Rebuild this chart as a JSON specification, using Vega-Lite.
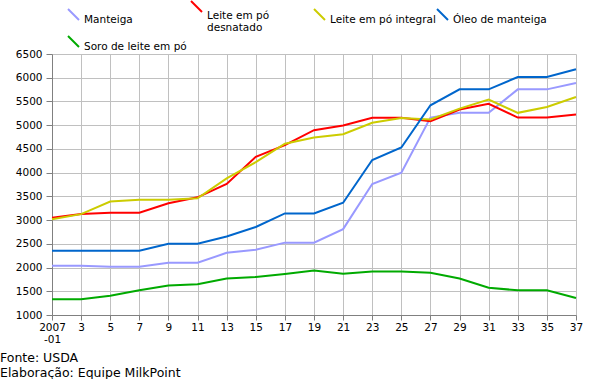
{
  "$schema": "https://vega.github.io/schema/vega-lite/v6.json",
  "width": 524,
  "height": 261,
  "autosize": {"type": "none"},
  "padding": {"left": 52, "top": 54, "right": 14, "bottom": 64},
  "background": "white",
  "config": {"font": "DejaVu Sans", "view": {"stroke": null}},
  "title": {
    "text": ["Fonte: USDA", "Elaboração: Equipe MilkPoint"],
    "orient": "bottom",
    "anchor": "start",
    "frame": "group",
    "dx": -52,
    "offset": 7,
    "fontSize": 12.5,
    "fontWeight": "normal",
    "lineHeight": 15,
    "color": "black"
  },
  "data": {
    "values": [
      {"s": "Manteiga", "p": 1, "v": 2040}, {"s": "Manteiga", "p": 3, "v": 2040}, {"s": "Manteiga", "p": 5, "v": 2015}, {"s": "Manteiga", "p": 7, "v": 2015}, {"s": "Manteiga", "p": 9, "v": 2100}, {"s": "Manteiga", "p": 11, "v": 2100}, {"s": "Manteiga", "p": 13, "v": 2310}, {"s": "Manteiga", "p": 15, "v": 2375}, {"s": "Manteiga", "p": 17, "v": 2525}, {"s": "Manteiga", "p": 19, "v": 2525}, {"s": "Manteiga", "p": 21, "v": 2810}, {"s": "Manteiga", "p": 23, "v": 3760}, {"s": "Manteiga", "p": 25, "v": 4000}, {"s": "Manteiga", "p": 27, "v": 5160}, {"s": "Manteiga", "p": 29, "v": 5260}, {"s": "Manteiga", "p": 31, "v": 5260}, {"s": "Manteiga", "p": 33, "v": 5755}, {"s": "Manteiga", "p": 35, "v": 5755}, {"s": "Manteiga", "p": 37, "v": 5890},
      {"s": "Leite em pó desnatado", "p": 1, "v": 3050}, {"s": "Leite em pó desnatado", "p": 3, "v": 3130}, {"s": "Leite em pó desnatado", "p": 5, "v": 3155}, {"s": "Leite em pó desnatado", "p": 7, "v": 3155}, {"s": "Leite em pó desnatado", "p": 9, "v": 3355}, {"s": "Leite em pó desnatado", "p": 11, "v": 3480}, {"s": "Leite em pó desnatado", "p": 13, "v": 3760}, {"s": "Leite em pó desnatado", "p": 15, "v": 4335}, {"s": "Leite em pó desnatado", "p": 17, "v": 4580}, {"s": "Leite em pó desnatado", "p": 19, "v": 4895}, {"s": "Leite em pó desnatado", "p": 21, "v": 4995}, {"s": "Leite em pó desnatado", "p": 23, "v": 5155}, {"s": "Leite em pó desnatado", "p": 25, "v": 5155}, {"s": "Leite em pó desnatado", "p": 27, "v": 5085}, {"s": "Leite em pó desnatado", "p": 29, "v": 5330}, {"s": "Leite em pó desnatado", "p": 31, "v": 5450}, {"s": "Leite em pó desnatado", "p": 33, "v": 5160}, {"s": "Leite em pó desnatado", "p": 35, "v": 5160}, {"s": "Leite em pó desnatado", "p": 37, "v": 5225},
      {"s": "Leite em pó integral", "p": 1, "v": 3020}, {"s": "Leite em pó integral", "p": 3, "v": 3125}, {"s": "Leite em pó integral", "p": 5, "v": 3390}, {"s": "Leite em pó integral", "p": 7, "v": 3430}, {"s": "Leite em pó integral", "p": 9, "v": 3430}, {"s": "Leite em pó integral", "p": 11, "v": 3460}, {"s": "Leite em pó integral", "p": 13, "v": 3880}, {"s": "Leite em pó integral", "p": 15, "v": 4220}, {"s": "Leite em pó integral", "p": 17, "v": 4610}, {"s": "Leite em pó integral", "p": 19, "v": 4740}, {"s": "Leite em pó integral", "p": 21, "v": 4810}, {"s": "Leite em pó integral", "p": 23, "v": 5050}, {"s": "Leite em pó integral", "p": 25, "v": 5150}, {"s": "Leite em pó integral", "p": 27, "v": 5120}, {"s": "Leite em pó integral", "p": 29, "v": 5350}, {"s": "Leite em pó integral", "p": 31, "v": 5540}, {"s": "Leite em pó integral", "p": 33, "v": 5260}, {"s": "Leite em pó integral", "p": 35, "v": 5385}, {"s": "Leite em pó integral", "p": 37, "v": 5595},
      {"s": "Óleo de manteiga", "p": 1, "v": 2355}, {"s": "Óleo de manteiga", "p": 3, "v": 2355}, {"s": "Óleo de manteiga", "p": 5, "v": 2355}, {"s": "Óleo de manteiga", "p": 7, "v": 2355}, {"s": "Óleo de manteiga", "p": 9, "v": 2500}, {"s": "Óleo de manteiga", "p": 11, "v": 2500}, {"s": "Óleo de manteiga", "p": 13, "v": 2655}, {"s": "Óleo de manteiga", "p": 15, "v": 2855}, {"s": "Óleo de manteiga", "p": 17, "v": 3140}, {"s": "Óleo de manteiga", "p": 19, "v": 3140}, {"s": "Óleo de manteiga", "p": 21, "v": 3365}, {"s": "Óleo de manteiga", "p": 23, "v": 4265}, {"s": "Óleo de manteiga", "p": 25, "v": 4530}, {"s": "Óleo de manteiga", "p": 27, "v": 5420}, {"s": "Óleo de manteiga", "p": 29, "v": 5755}, {"s": "Óleo de manteiga", "p": 31, "v": 5755}, {"s": "Óleo de manteiga", "p": 33, "v": 6015}, {"s": "Óleo de manteiga", "p": 35, "v": 6015}, {"s": "Óleo de manteiga", "p": 37, "v": 6180},
      {"s": "Soro de leite em pó", "p": 1, "v": 1330}, {"s": "Soro de leite em pó", "p": 3, "v": 1330}, {"s": "Soro de leite em pó", "p": 5, "v": 1405}, {"s": "Soro de leite em pó", "p": 7, "v": 1520}, {"s": "Soro de leite em pó", "p": 9, "v": 1620}, {"s": "Soro de leite em pó", "p": 11, "v": 1650}, {"s": "Soro de leite em pó", "p": 13, "v": 1770}, {"s": "Soro de leite em pó", "p": 15, "v": 1800}, {"s": "Soro de leite em pó", "p": 17, "v": 1865}, {"s": "Soro de leite em pó", "p": 19, "v": 1935}, {"s": "Soro de leite em pó", "p": 21, "v": 1870}, {"s": "Soro de leite em pó", "p": 23, "v": 1915}, {"s": "Soro de leite em pó", "p": 25, "v": 1915}, {"s": "Soro de leite em pó", "p": 27, "v": 1890}, {"s": "Soro de leite em pó", "p": 29, "v": 1770}, {"s": "Soro de leite em pó", "p": 31, "v": 1575}, {"s": "Soro de leite em pó", "p": 33, "v": 1520}, {"s": "Soro de leite em pó", "p": 35, "v": 1520}, {"s": "Soro de leite em pó", "p": 37, "v": 1360}
    ]
  },
  "mark": {"type": "line", "strokeWidth": 2},
  "encoding": {
    "x": {
      "field": "p",
      "type": "quantitative",
      "scale": {"domain": [1, 37], "nice": false, "zero": false},
      "axis": {
        "title": null,
        "values": [1, 3, 5, 7, 9, 11, 13, 15, 17, 19, 21, 23, 25, 27, 29, 31, 33, 35, 37],
        "labelExpr": "datum.value == 1 ? ['2007', '-01'] : datum.label",
        "grid": true,
        "gridColor": "#c0c0c0",
        "gridOpacity": 1,
        "domainColor": "#808080",
        "tickColor": "#808080",
        "tickSize": 5,
        "labelFontSize": 10.5,
        "labelColor": "black",
        "labelPadding": 2,
        "labelFlush": false,
        "labelOverlap": false,
        "labelLineHeight": 12
      }
    },
    "y": {
      "field": "v",
      "type": "quantitative",
      "scale": {"domain": [1000, 6500], "nice": false, "zero": false},
      "axis": {
        "title": null,
        "values": [1000, 1500, 2000, 2500, 3000, 3500, 4000, 4500, 5000, 5500, 6000, 6500],
        "format": "d",
        "grid": true,
        "gridColor": "#c0c0c0",
        "gridOpacity": 1,
        "domainColor": "#808080",
        "tickColor": "#808080",
        "tickSize": 6,
        "labelFontSize": 10.5,
        "labelColor": "black",
        "labelPadding": 4
      }
    },
    "color": {
      "field": "s",
      "type": "nominal",
      "scale": {
        "domain": ["Manteiga", "Leite em pó desnatado", "Leite em pó integral", "Óleo de manteiga", "Soro de leite em pó"],
        "range": ["#9999ff", "#ff0000", "#cccc00", "#0066cc", "#00aa00"]
      },
      "legend": {
        "orient": "none",
        "legendX": 15,
        "legendY": -54,
        "direction": "horizontal",
        "columns": 4,
        "gridAlign": "all",
        "title": null,
        "symbolType": "M-1,-1L1,1",
        "symbolSize": 121,
        "symbolStrokeWidth": 2,
        "labelFontSize": 10.5,
        "labelColor": "black",
        "labelOffset": 4,
        "labelLimit": 200,
        "labelBaseline": "top",
        "columnPadding": -4,
        "rowPadding": -1,
        "labelExpr": "datum.label == 'Leite em pó desnatado' ? ['Leite em pó', 'desnatado'] : datum.label",
        "encode": {"labels": {"update": {"lineHeight": {"value": 12}, "dy": {"signal": "datum.value == 'Leite em pó desnatado' ? 4 : 0"}}}}
      }
    }
  }
}
